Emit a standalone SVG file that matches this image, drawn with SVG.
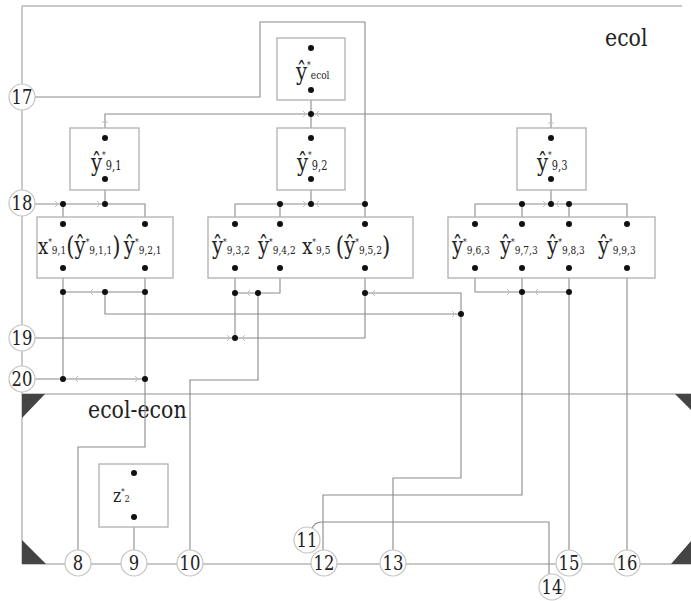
<svg xmlns="http://www.w3.org/2000/svg" xmlns:xlink="http://www.w3.org/1999/xlink" width="691" height="601" viewBox="0 0 691 601">
<style>
text{font-family:"DejaVu Serif","Liberation Serif","Noto Serif",serif;fill:#222}
.bg{fill:#fff}
.frame{fill:none;stroke:#c8c8c8;stroke-width:2}
.frame1{fill:none;stroke:#a8a8a8;stroke-width:1.2}
.ln{fill:none;stroke:#8a8a8a;stroke-width:1.1}
.box{fill:#fff;stroke:#b0b0b0;stroke-width:1.3}
.dot{fill:#111}
.tri{fill:#444}
.cir{fill:#fff;stroke:#c4c4c4;stroke-width:1.2}
.num{font-size:20px;text-anchor:middle}
.lbl{font-size:25px}
.v{font-size:24px}
.xv{font-size:22px}
.par{font-size:26px}
.sp{font-size:9px}
.sb{font-size:11px}
.sb1{font-size:12px}
.chev{fill:none;stroke:#c0c0c0;stroke-width:1}
</style>
<defs>
<path id="cr" d="M-3,-3 L0,0 L-3,3" class="chev"/>
</defs>
<rect class="bg" x="0" y="0" width="691" height="601"/>

<g id="regions">
<line class="frame" x1="22" y1="6" x2="682" y2="6"/>
<line class="frame1" x1="22" y1="6" x2="22" y2="564"/>
<line class="frame" x1="22" y1="394" x2="691" y2="394"/>
<line class="frame" x1="22" y1="564" x2="691" y2="564"/>
<polygon class="tri" points="22,394 45,394 22,418"/>
<polygon class="tri" points="675,394 691,394 691,410"/>
<polygon class="tri" points="22,540 22,564 46,564"/>
<polygon class="tri" points="691,541 691,564 671,564"/>
<text class="lbl" transform="translate(605,46) scale(0.82,1)">ecol</text>
<text class="lbl" transform="translate(88,418) scale(0.82,1)">ecol-econ</text>
</g>

<g id="connectors">
<path class="ln" d="M35,97 H260 V22 H365 V204"/>
<path class="ln" d="M311,90 V138"/>
<path class="ln" d="M105,128 V114 H551 V128"/>
<path class="ln" d="M105,179 V204"/>
<path class="ln" d="M35,204 H145 V224"/>
<path class="ln" d="M63,204 V224"/>
<path class="ln" d="M63,268 V379"/>
<path class="ln" d="M145,268 V447 H78 V550"/>
<path class="ln" d="M63,292 H145"/>
<path class="ln" d="M105,292 V314 H461"/>
<path class="ln" d="M35,379 H145"/>
<path class="ln" d="M311,179 V204"/>
<path class="ln" d="M235,224 V204 H365 V224"/>
<path class="ln" d="M280,204 V224"/>
<path class="ln" d="M235,268 V338"/>
<path class="ln" d="M280,268 V293 H235"/>
<path class="ln" d="M258,293 V380 H190 V550"/>
<path class="ln" d="M35,338 H365 V268"/>
<path class="ln" d="M365,293 H461 V478 H393 V550"/>
<path class="ln" d="M551,179 V204"/>
<path class="ln" d="M475,224 V204 H627 V224"/>
<path class="ln" d="M522,204 V224"/>
<path class="ln" d="M569,204 V224"/>
<path class="ln" d="M475,268 V292 H569"/>
<path class="ln" d="M522,268 V495 H323 V550"/>
<path class="ln" d="M569,268 V550"/>
<path class="ln" d="M627,268 V550"/>
<path class="ln" d="M312,529 Q314,522 322,522 H549 V574"/>
<path class="ln" d="M134,517 V550"/>
<use xlink:href="#cr" transform="translate(306,114)"/>
<use xlink:href="#cr" transform="translate(316,114) rotate(180)"/>
<use xlink:href="#cr" transform="translate(105,120) rotate(-90)"/>
<use xlink:href="#cr" transform="translate(551,121) rotate(-90)"/>
<use xlink:href="#cr" transform="translate(100,204)"/>
<use xlink:href="#cr" transform="translate(58,204)"/>
<use xlink:href="#cr" transform="translate(306,204)"/>
<use xlink:href="#cr" transform="translate(316,204) rotate(180)"/>
<use xlink:href="#cr" transform="translate(546,204)"/>
<use xlink:href="#cr" transform="translate(556,204) rotate(180)"/>
<use xlink:href="#cr" transform="translate(90,292) rotate(180)"/>
<use xlink:href="#cr" transform="translate(247,293) rotate(180)"/>
<use xlink:href="#cr" transform="translate(230,338)"/>
<use xlink:href="#cr" transform="translate(242,338) rotate(180)"/>
<use xlink:href="#cr" transform="translate(455,314)"/>
<use xlink:href="#cr" transform="translate(372,293) rotate(180)"/>
<use xlink:href="#cr" transform="translate(510,292)"/>
<use xlink:href="#cr" transform="translate(535,292) rotate(180)"/>
<use xlink:href="#cr" transform="translate(138,379)"/>
<use xlink:href="#cr" transform="translate(75,379) rotate(180)"/>
</g>

<g id="n-ecol">
<rect class="box" x="277" y="38" width="68" height="62"/>
<circle class="dot" cx="311" cy="48" r="3"/>
<circle class="dot" cx="311" cy="90" r="3"/>
<text transform="translate(296,80) scale(0.82,1)"><tspan class="v">ŷ</tspan><tspan class="sp" dy="-12">*</tspan><tspan class="sb" dy="11">ecol</tspan></text>
</g>
<circle class="dot" cx="311" cy="114" r="3"/>

<g id="n-y91">
<rect class="box" x="70" y="128" width="69" height="62"/>
<circle class="dot" cx="105" cy="138" r="3"/>
<circle class="dot" cx="105" cy="179" r="3"/>
<text transform="translate(91,171) scale(0.82,1)"><tspan class="v">ŷ</tspan><tspan class="sp" dy="-13">*</tspan><tspan class="sb1" dy="12">9,1</tspan></text>
</g>
<g id="n-y92">
<rect class="box" x="277" y="128" width="68" height="62"/>
<circle class="dot" cx="311" cy="138" r="3"/>
<circle class="dot" cx="311" cy="179" r="3"/>
<text transform="translate(297,171) scale(0.82,1)"><tspan class="v">ŷ</tspan><tspan class="sp" dy="-13">*</tspan><tspan class="sb1" dy="12">9,2</tspan></text>
</g>
<g id="n-y93">
<rect class="box" x="517" y="128" width="69" height="62"/>
<circle class="dot" cx="551" cy="138" r="3"/>
<circle class="dot" cx="551" cy="179" r="3"/>
<text transform="translate(537,171) scale(0.82,1)"><tspan class="v">ŷ</tspan><tspan class="sp" dy="-13">*</tspan><tspan class="sb1" dy="12">9,3</tspan></text>
</g>

<g id="n-row-a">
<rect class="box" x="37" y="217" width="136" height="61"/>
<circle class="dot" cx="63" cy="224" r="3"/>
<circle class="dot" cx="145" cy="224" r="3"/>
<circle class="dot" cx="63" cy="268" r="3"/>
<circle class="dot" cx="145" cy="268" r="3"/>
<text transform="translate(38,254) scale(0.82,1)"><tspan class="xv">x</tspan><tspan class="sp" dy="-9">*</tspan><tspan class="sb" dy="9">9,1</tspan><tspan class="par" dy="1">(</tspan><tspan class="v" dy="-1">ŷ</tspan><tspan class="sp" dy="-9">*</tspan><tspan class="sb" dy="9">9,1,1</tspan><tspan class="par" dy="1">)</tspan><tspan class="v" dx="4" dy="-1">ŷ</tspan><tspan class="sp" dy="-9">*</tspan><tspan class="sb" dy="9">9,2,1</tspan></text>
</g>
<g id="n-row-b">
<rect class="box" x="208" y="217" width="205" height="61"/>
<circle class="dot" cx="235" cy="224" r="3"/>
<circle class="dot" cx="280" cy="224" r="3"/>
<circle class="dot" cx="365" cy="224" r="3"/>
<circle class="dot" cx="235" cy="268" r="3"/>
<circle class="dot" cx="280" cy="268" r="3"/>
<circle class="dot" cx="365" cy="268" r="3"/>
<text transform="translate(212,254) scale(0.82,1)"><tspan class="v">ŷ</tspan><tspan class="sp" dy="-9">*</tspan><tspan class="sb" dy="9">9,3,2</tspan><tspan class="v" x="56">ŷ</tspan><tspan class="sp" dy="-9">*</tspan><tspan class="sb" dy="9">9,4,2</tspan><tspan class="xv" x="110">x</tspan><tspan class="sp" dy="-9">*</tspan><tspan class="sb" dy="9">9,5</tspan><tspan class="par" x="151" dy="1">(</tspan><tspan class="v" dy="-1">ŷ</tspan><tspan class="sp" dy="-9">*</tspan><tspan class="sb" dy="9">9,5,2</tspan><tspan class="par" dy="1">)</tspan></text>
</g>
<g id="n-row-c">
<rect class="box" x="448" y="217" width="207" height="61"/>
<circle class="dot" cx="475" cy="224" r="3"/>
<circle class="dot" cx="522" cy="224" r="3"/>
<circle class="dot" cx="569" cy="224" r="3"/>
<circle class="dot" cx="627" cy="224" r="3"/>
<circle class="dot" cx="475" cy="268" r="3"/>
<circle class="dot" cx="522" cy="268" r="3"/>
<circle class="dot" cx="569" cy="268" r="3"/>
<circle class="dot" cx="627" cy="268" r="3"/>
<text transform="translate(452,254) scale(0.82,1)"><tspan class="v">ŷ</tspan><tspan class="sp" dy="-9">*</tspan><tspan class="sb" dy="9">9,6,3</tspan><tspan class="v" x="58.5">ŷ</tspan><tspan class="sp" dy="-9">*</tspan><tspan class="sb" dy="9">9,7,3</tspan><tspan class="v" x="116">ŷ</tspan><tspan class="sp" dy="-9">*</tspan><tspan class="sb" dy="9">9,8,3</tspan><tspan class="v" x="178">ŷ</tspan><tspan class="sp" dy="-9">*</tspan><tspan class="sb" dy="9">9,9,3</tspan></text>
</g>
<g id="n-z">
<rect class="box" x="99" y="464" width="69" height="63"/>
<circle class="dot" cx="134" cy="473" r="3"/>
<circle class="dot" cx="134" cy="517" r="3"/>
<text transform="translate(113,502) scale(0.82,1)"><tspan style="font-size:19px">z</tspan><tspan class="sp" dy="-8" style="font-size:8px">*</tspan><tspan dy="8" style="font-size:10px">2</tspan></text>
</g>

<g id="junctions">
<circle class="dot" cx="63" cy="204" r="3"/>
<circle class="dot" cx="105" cy="204" r="3"/>
<circle class="dot" cx="63" cy="292" r="3"/>
<circle class="dot" cx="105" cy="292" r="3"/>
<circle class="dot" cx="145" cy="292" r="3"/>
<circle class="dot" cx="63" cy="379" r="3"/>
<circle class="dot" cx="145" cy="379" r="3"/>
<circle class="dot" cx="280" cy="204" r="3"/>
<circle class="dot" cx="311" cy="204" r="3"/>
<circle class="dot" cx="365" cy="204" r="3"/>
<circle class="dot" cx="235" cy="293" r="3"/>
<circle class="dot" cx="258" cy="293" r="3"/>
<circle class="dot" cx="365" cy="293" r="3"/>
<circle class="dot" cx="235" cy="338" r="3"/>
<circle class="dot" cx="461" cy="314" r="3"/>
<circle class="dot" cx="522" cy="204" r="3"/>
<circle class="dot" cx="551" cy="204" r="3"/>
<circle class="dot" cx="569" cy="204" r="3"/>
<circle class="dot" cx="522" cy="292" r="3"/>
<circle class="dot" cx="569" cy="292" r="3"/>
</g>

<g id="p17"><circle class="cir" cx="22" cy="97" r="13"/><text class="num" transform="translate(22,104) scale(0.82,1)">17</text></g>
<g id="p18"><circle class="cir" cx="22" cy="203" r="13"/><text class="num" transform="translate(22,210) scale(0.82,1)">18</text></g>
<g id="p19"><circle class="cir" cx="22" cy="338" r="13"/><text class="num" transform="translate(22,345) scale(0.82,1)">19</text></g>
<g id="p20"><circle class="cir" cx="22" cy="379" r="13"/><text class="num" transform="translate(22,386) scale(0.82,1)">20</text></g>
<g id="p8"><circle class="cir" cx="78" cy="563" r="13"/><text class="num" transform="translate(78,570) scale(0.82,1)">8</text></g>
<g id="p9"><circle class="cir" cx="134" cy="563" r="13"/><text class="num" transform="translate(134,570) scale(0.82,1)">9</text></g>
<g id="p10"><circle class="cir" cx="190" cy="563" r="13"/><text class="num" transform="translate(190,570) scale(0.82,1)">10</text></g>
<g id="p11"><circle class="cir" cx="307" cy="540" r="13"/><text class="num" transform="translate(307,547) scale(0.82,1)">11</text></g>
<g id="p12"><circle class="cir" cx="324" cy="563" r="13"/><text class="num" transform="translate(324,570) scale(0.82,1)">12</text></g>
<g id="p13"><circle class="cir" cx="393" cy="563" r="13"/><text class="num" transform="translate(393,570) scale(0.82,1)">13</text></g>
<g id="p14"><circle class="cir" cx="552" cy="587" r="13"/><text class="num" transform="translate(552,594) scale(0.82,1)">14</text></g>
<g id="p15"><circle class="cir" cx="569" cy="563" r="13"/><text class="num" transform="translate(569,570) scale(0.82,1)">15</text></g>
<g id="p16"><circle class="cir" cx="627" cy="563" r="13"/><text class="num" transform="translate(627,570) scale(0.82,1)">16</text></g>
</svg>
